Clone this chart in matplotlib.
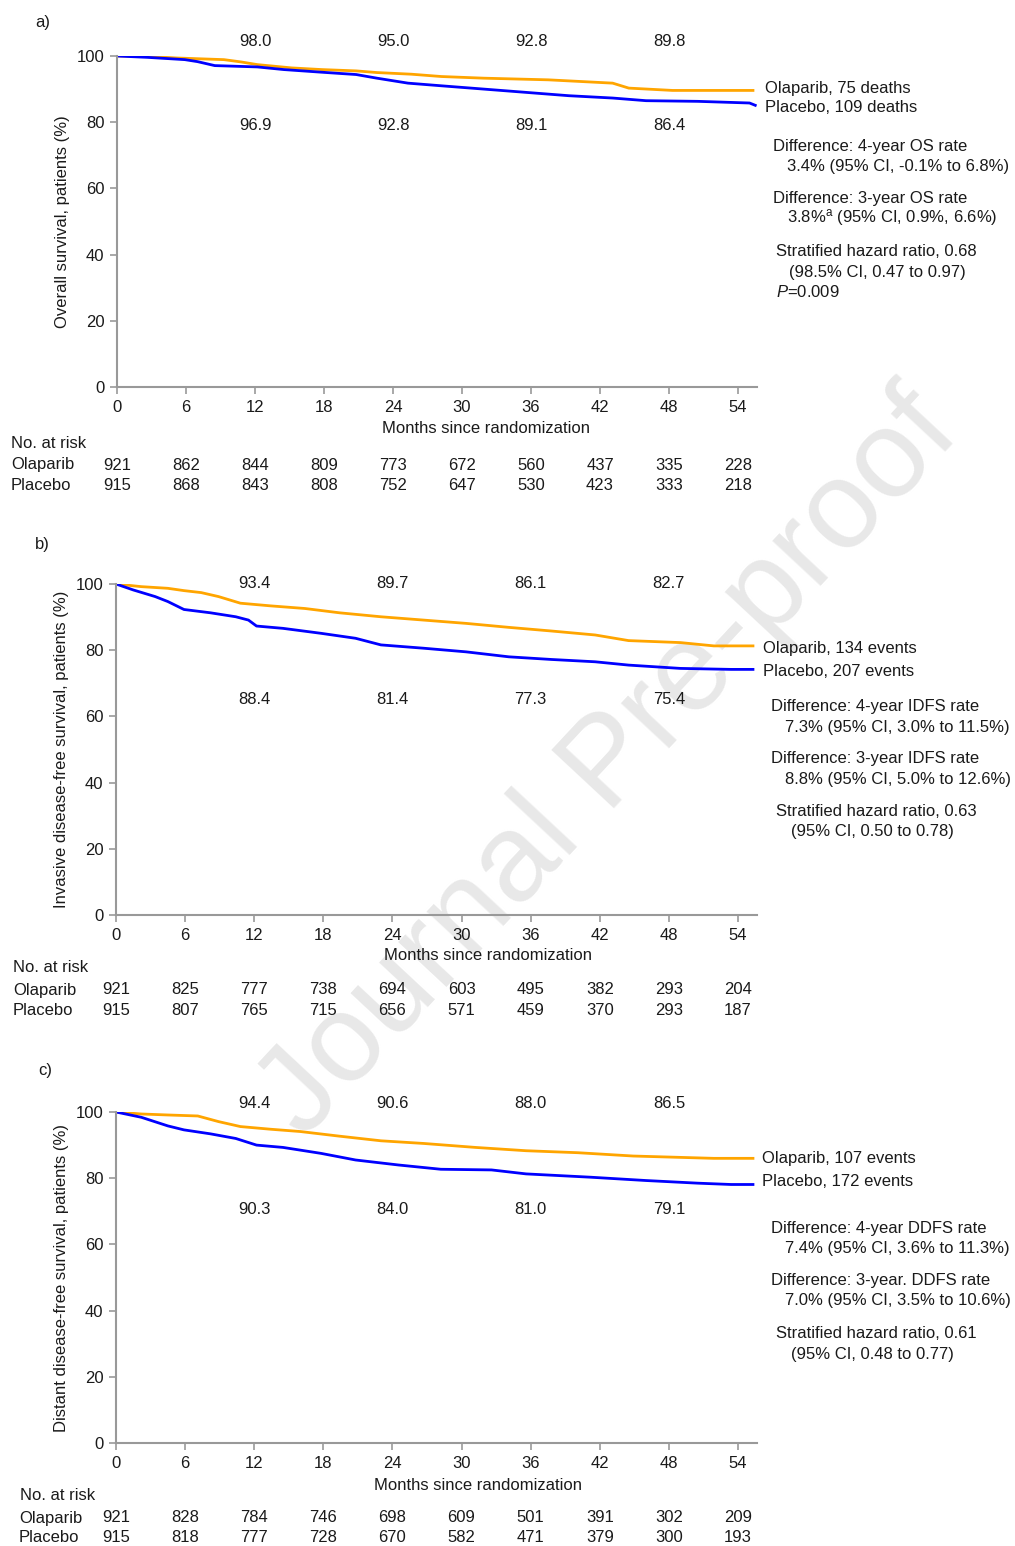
import matplotlib
matplotlib.use("Agg")
import matplotlib.pyplot as plt
from matplotlib.transforms import blended_transform_factory

plt.rcParams['font.family'] = ['Liberation Sans', 'DejaVu Sans']
plt.rcParams['mathtext.fontset'] = 'custom'
plt.rcParams['mathtext.rm'] = 'Liberation Sans'
plt.rcParams['mathtext.it'] = 'Liberation Sans:italic'

# ---- data ----
months = [0, 6, 12, 18, 24, 30, 36, 42, 48, 54]
mark_months = [12, 24, 36, 48]

# a) overall survival
os_ola_t = [0, 2.6, 5.2, 9.3, 10.8, 12.2, 13.7, 15.2, 17.8, 20.8, 22.6, 25.6, 28.2, 31.9, 37.5, 43.1, 44.5, 48.3, 55.3]
os_ola_s = [100, 99.9, 99.4, 98.9, 98.2, 97.4, 96.9, 96.4, 95.9, 95.5, 95.0, 94.5, 93.8, 93.3, 92.8, 91.8, 90.3, 89.6, 89.6]
os_pla_t = [0, 2.6, 5.9, 7.0, 8.5, 12.2, 14.5, 17.8, 20.8, 22.6, 25.3, 28.2, 31.9, 35.6, 39.3, 43.1, 46.0, 50.5, 55.0, 55.5]
os_pla_s = [100, 99.6, 98.9, 98.3, 97.1, 96.7, 95.9, 95.1, 94.4, 93.3, 91.8, 91.0, 90.0, 89.0, 88.0, 87.3, 86.5, 86.3, 85.8, 85.1]
os_ola_marks = ["98.0", "95.0", "92.8", "89.8"]
os_pla_marks = ["96.9", "92.8", "89.1", "86.4"]
os_risk_ola = [921, 862, 844, 809, 773, 672, 560, 437, 335, 228]
os_risk_pla = [915, 868, 843, 808, 752, 647, 530, 423, 333, 218]

# b) invasive disease-free survival
idfs_ola_t = [0, 2.2, 4.5, 5.9, 7.4, 8.9, 10.8, 13.4, 16.4, 19.4, 23.0, 26.7, 30.4, 34.1, 37.8, 41.6, 44.5, 49.0, 51.9, 55.3]
idfs_ola_s = [100, 99.2, 98.7, 98.0, 97.4, 96.2, 94.2, 93.4, 92.6, 91.3, 90.1, 89.1, 88.1, 86.9, 85.8, 84.6, 82.9, 82.3, 81.3, 81.3]
idfs_pla_t = [0, 1.5, 3.4, 4.5, 5.9, 8.2, 10.4, 11.5, 12.2, 14.5, 17.8, 20.8, 23.0, 26.7, 30.4, 34.1, 37.8, 41.6, 44.5, 49.0, 53.4, 55.3]
idfs_pla_s = [100, 98.2, 96.2, 94.7, 92.3, 91.3, 90.1, 89.1, 87.3, 86.6, 85.1, 83.6, 81.6, 80.6, 79.5, 78.0, 77.2, 76.5, 75.5, 74.5, 74.2, 74.2]
idfs_ola_marks = ["93.4", "89.7", "86.1", "82.7"]
idfs_pla_marks = ["88.4", "81.4", "77.3", "75.4"]
idfs_risk_ola = [921, 825, 777, 738, 694, 603, 495, 382, 293, 204]
idfs_risk_pla = [915, 807, 765, 715, 656, 571, 459, 370, 293, 187]

# c) distant disease-free survival
ddfs_ola_t = [0, 2.2, 4.5, 7.1, 8.9, 10.8, 13.4, 16.0, 19.4, 23.0, 26.7, 31.2, 35.6, 40.1, 44.9, 51.9, 55.3]
ddfs_ola_s = [100, 99.4, 99.1, 98.8, 97.1, 95.6, 94.8, 94.1, 92.7, 91.3, 90.5, 89.3, 88.3, 87.7, 86.7, 86.0, 86.0]
ddfs_pla_t = [0, 2.2, 4.5, 5.9, 8.2, 10.4, 12.2, 14.5, 17.8, 20.8, 24.5, 28.2, 32.6, 35.6, 41.2, 46.0, 50.5, 53.4, 55.3]
ddfs_pla_s = [100, 98.4, 95.8, 94.6, 93.4, 92.0, 90.0, 89.3, 87.5, 85.5, 84.0, 82.7, 82.5, 81.3, 80.3, 79.3, 78.5, 78.1, 78.1]
ddfs_ola_marks = ["94.4", "90.6", "88.0", "86.5"]
ddfs_pla_marks = ["90.3", "84.0", "81.0", "79.1"]
ddfs_risk_ola = [921, 828, 784, 746, 698, 609, 501, 391, 302, 209]
ddfs_risk_pla = [915, 818, 777, 728, 670, 582, 471, 379, 300, 193]

W, H = 1015, 1546
ORANGE = '#FFA500'
BLUE = '#0000FF'
GREY = '#999999'
TXT = '#1a1a1a'
FS = 12

fig = plt.figure(figsize=(W / 100, H / 100), dpi=100)


def fy(py):
    return 1 - py / H


def fx(px):
    return px / W


panels = [
    dict(letter="a)", top=56, bottom=387, left=117, letter_y=22, letter_x=35,
         ylabel="Overall survival, patients (%)",
         ola=(os_ola_t, os_ola_s), pla=(os_pla_t, os_pla_s),
         ola_marks=os_ola_marks, pla_marks=os_pla_marks, mark_y=(42, 126),
         xlabel_xy=(486, 429), head=(11, 443), rows=(465, 486), name_x=11,
         risk=(os_risk_ola, os_risk_pla),
         notes=[(765, 88, "Olaparib, 75 deaths"), (765, 108, "Placebo, 109 deaths"),
                (773, 146, "Difference: 4-year OS rate"),
                (787, 166, "3.4% (95% CI, -0.1% to 6.8%)"),
                (773, 198, "Difference: 3-year OS rate"),
                (787, 218, "3.8%$^{\\rm a}$ (95% CI, 0.9%, 6.6%)"),
                (776, 252, "Stratified hazard ratio, 0.68"),
                (789, 272, "(98.5% CI, 0.47 to 0.97)"),
                (776, 292, "$P$=0.009")]),
    dict(letter="b)", top=584, bottom=915, left=116, letter_y=545, letter_x=35,
         ylabel="Invasive disease-free survival, patients (%)",
         ola=(idfs_ola_t, idfs_ola_s), pla=(idfs_pla_t, idfs_pla_s),
         ola_marks=idfs_ola_marks, pla_marks=idfs_pla_marks, mark_y=(583, 699),
         xlabel_xy=(488, 955), head=(13, 968), rows=(990, 1010), name_x=13,
         risk=(idfs_risk_ola, idfs_risk_pla),
         notes=[(763, 648, "Olaparib, 134 events"), (763, 671, "Placebo, 207 events"),
                (771, 707, "Difference: 4-year IDFS rate"),
                (785, 727, "7.3% (95% CI, 3.0% to 11.5%)"),
                (771, 759, "Difference: 3-year IDFS rate"),
                (785, 779, "8.8% (95% CI, 5.0% to 12.6%)"),
                (776, 812, "Stratified hazard ratio, 0.63"),
                (791, 832, "(95% CI, 0.50 to 0.78)")]),
    dict(letter="c)", top=1112, bottom=1443, left=116, letter_y=1071, letter_x=38,
         ylabel="Distant disease-free survival, patients (%)",
         ola=(ddfs_ola_t, ddfs_ola_s), pla=(ddfs_pla_t, ddfs_pla_s),
         ola_marks=ddfs_ola_marks, pla_marks=ddfs_pla_marks, mark_y=(1104, 1210),
         xlabel_xy=(478, 1486), head=(20, 1496), rows=(1518, 1538), name_x=19,
         risk=(ddfs_risk_ola, ddfs_risk_pla),
         notes=[(762, 1158, "Olaparib, 107 events"), (762, 1182, "Placebo, 172 events"),
                (771, 1228, "Difference: 4-year DDFS rate"),
                (785, 1249, "7.4% (95% CI, 3.6% to 11.3%)"),
                (771, 1281, "Difference: 3-year. DDFS rate"),
                (785, 1301, "7.0% (95% CI, 3.5% to 10.6%)"),
                (776, 1334, "Stratified hazard ratio, 0.61"),
                (791, 1355, "(95% CI, 0.48 to 0.77)")]),
]

# watermark behind everything
fig.text(fx(610), fy(765), "Journal Pre-proof", rotation=47, fontsize=90,
         color='#e8e8e8', ha='center', va='center', zorder=-5)

for p in panels:
    right = 757
    ax = fig.add_axes([fx(p['left']), fy(p['bottom']), (right - p['left']) / W,
                       (p['bottom'] - p['top']) / H])
    ax.patch.set_alpha(0)
    ax.plot(*p['ola'], color=ORANGE, lw=2.0)
    ax.plot(*p['pla'], color=BLUE, lw=2.0)
    ax.set_xlim(0, 55.65)
    ax.set_ylim(0, 100)
    ax.set_xticks(months)
    ax.set_yticks(range(0, 101, 20))
    for s in ['top', 'right']:
        ax.spines[s].set_visible(False)
    for s in ['left', 'bottom']:
        ax.spines[s].set_color(GREY)
        ax.spines[s].set_linewidth(1.5)
    ax.tick_params(color=GREY, width=1.2, length=5, labelsize=FS, labelcolor=TXT, pad=4)

    for m, lab in zip(mark_months, p['ola_marks']):
        ax.text(m, 100 + (p['top'] - p['mark_y'][0]) / 3.31, lab, ha='center', va='center',
                fontsize=FS, color=TXT, clip_on=False)
    for m, lab in zip(mark_months, p['pla_marks']):
        ax.text(m, 100 - (p['mark_y'][1] - p['top']) / 3.31, lab, ha='center', va='center',
                fontsize=FS, color=TXT, clip_on=False)

    fig.text(fx(p['letter_x']), fy(p['letter_y']), p['letter'], fontsize=FS, color=TXT,
             ha='left', va='center')
    fig.text(fx(62), fy((p['top'] + p['bottom']) / 2), p['ylabel'], rotation=90,
             fontsize=FS, color=TXT, ha='center', va='center')
    fig.text(fx(p['xlabel_xy'][0]), fy(p['xlabel_xy'][1]), "Months since randomization",
             fontsize=FS, color=TXT, ha='center', va='center')

    # number at risk table
    fig.text(fx(p['head'][0]), fy(p['head'][1]), "No. at risk", fontsize=FS, color=TXT,
             ha='left', va='center')
    tr = blended_transform_factory(ax.transData, fig.transFigure)
    for name, row_y, counts in zip(["Olaparib", "Placebo"], p['rows'], p['risk']):
        fig.text(fx(p['name_x']), fy(row_y), name, fontsize=FS, color=TXT,
                 ha='left', va='center')
        for m, n in zip(months, counts):
            ax.text(m, fy(row_y), str(n), transform=tr, fontsize=FS, color=TXT,
                    ha='center', va='center', clip_on=False)

    for x, y, t in p['notes']:
        fig.text(fx(x), fy(y), t, fontsize=FS, color=TXT, ha='left', va='center')

fig.savefig("out.png", dpi=100)
